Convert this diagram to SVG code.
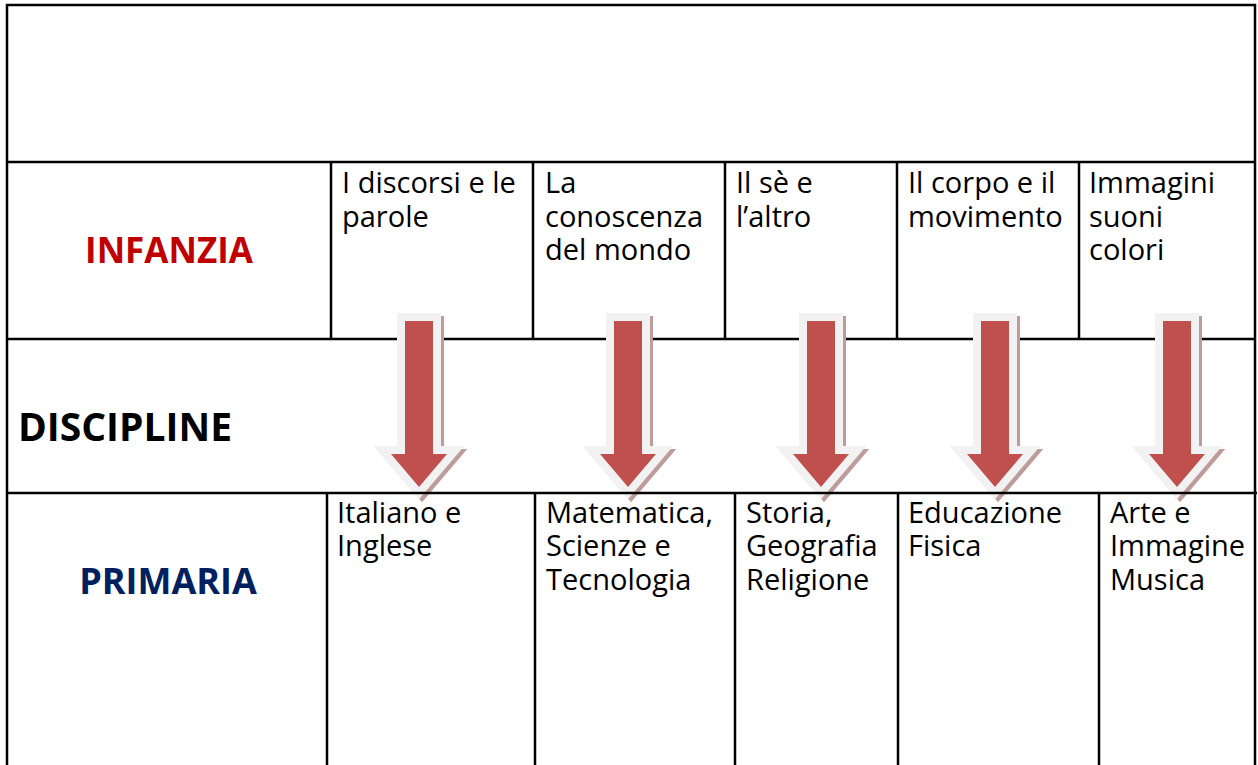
<svg xmlns="http://www.w3.org/2000/svg" xmlns:xlink="http://www.w3.org/1999/xlink" width="1258" height="765" viewBox="0 0 1258 765">
<style>
.ln{stroke:#000;stroke-width:2.5;fill:none}
.t{font-family:"Open Sans","Liberation Sans",sans-serif;font-size:29px;fill:#000}
.h{font-family:"Open Sans","Liberation Sans",sans-serif;font-weight:bold}
.sh{fill:#bf9c9c;stroke:#bf9c9c;stroke-width:16;stroke-linejoin:miter;stroke-miterlimit:10}
.wb{fill:#f2f2f2;stroke:#f2f2f2;stroke-width:16;stroke-linejoin:miter;stroke-miterlimit:10}
.rd{fill:#c0504d}
</style>
<defs>
<path id="ar" d="M-14,321 H14 V454 H28 L0,487 L-28,454 H-14 Z"/>
</defs>
<rect width="1258" height="765" fill="#fff"/>
<g id="grid">
<path class="ln" d="M7,766 V5 H1255 V766"/>
<path class="ln" d="M7,162 H1255 M7,339 H1255"/>
<path class="ln" d="M331,162 V339 M533,162 V339 M725,162 V339 M897,162 V339 M1079,162 V339"/>
<path class="ln" d="M327,493 V766 M535,493 V766 M735,493 V766 M898,493 V766 M1099,493 V766"/>
</g>
<g id="connectors">
<g transform="translate(419,0)"><use xlink:href="#ar" class="sh" transform="translate(3,3)"/><use xlink:href="#ar" class="wb"/><use xlink:href="#ar" class="rd"/></g>
<g transform="translate(628,0)"><use xlink:href="#ar" class="sh" transform="translate(3,3)"/><use xlink:href="#ar" class="wb"/><use xlink:href="#ar" class="rd"/></g>
<g transform="translate(821,0)"><use xlink:href="#ar" class="sh" transform="translate(3,3)"/><use xlink:href="#ar" class="wb"/><use xlink:href="#ar" class="rd"/></g>
<g transform="translate(995,0)"><use xlink:href="#ar" class="sh" transform="translate(3,3)"/><use xlink:href="#ar" class="wb"/><use xlink:href="#ar" class="rd"/></g>
<g transform="translate(1177,0)"><use xlink:href="#ar" class="sh" transform="translate(3,3)"/><use xlink:href="#ar" class="wb"/><use xlink:href="#ar" class="rd"/></g>
</g>
<path class="ln" d="M7,493 H1257"/>
<g id="infanzia"><text class="h" x="169" y="263" font-size="35" fill="#c00000" text-anchor="middle">INFANZIA</text></g>
<g id="discipline"><text class="h" x="18" y="441" font-size="39" fill="#000">DISCIPLINE</text></g>
<g id="primaria"><text class="h" x="168" y="594" font-size="36" fill="#002060" text-anchor="middle">PRIMARIA</text></g>
<g id="inf1"><text class="t" x="342" y="193">I discorsi e le</text><text class="t" x="342" y="227">parole</text></g>
<g id="inf2"><text class="t" x="545" y="193">La</text><text class="t" x="545" y="227">conoscenza</text><text class="t" x="545" y="260">del mondo</text></g>
<g id="inf3"><text class="t" x="736" y="193">Il sè e</text><text class="t" x="736" y="227">l’altro</text></g>
<g id="inf4"><text class="t" x="908" y="193">Il corpo e il</text><text class="t" x="908" y="227">movimento</text></g>
<g id="inf5"><text class="t" x="1089" y="193">Immagini</text><text class="t" x="1089" y="227">suoni</text><text class="t" x="1089" y="260">colori</text></g>
<g id="pri1"><text class="t" x="337" y="523">Italiano e</text><text class="t" x="337" y="556">Inglese</text></g>
<g id="pri2"><text class="t" x="546" y="523">Matematica,</text><text class="t" x="546" y="556">Scienze e</text><text class="t" x="546" y="590">Tecnologia</text></g>
<g id="pri3"><text class="t" x="746" y="523">Storia,</text><text class="t" x="746" y="556">Geografia</text><text class="t" x="746" y="590">Religione</text></g>
<g id="pri4"><text class="t" x="908" y="523">Educazione</text><text class="t" x="908" y="556">Fisica</text></g>
<g id="pri5"><text class="t" x="1110" y="523">Arte e</text><text class="t" x="1110" y="556">Immagine</text><text class="t" x="1110" y="590">Musica</text></g>
</svg>
